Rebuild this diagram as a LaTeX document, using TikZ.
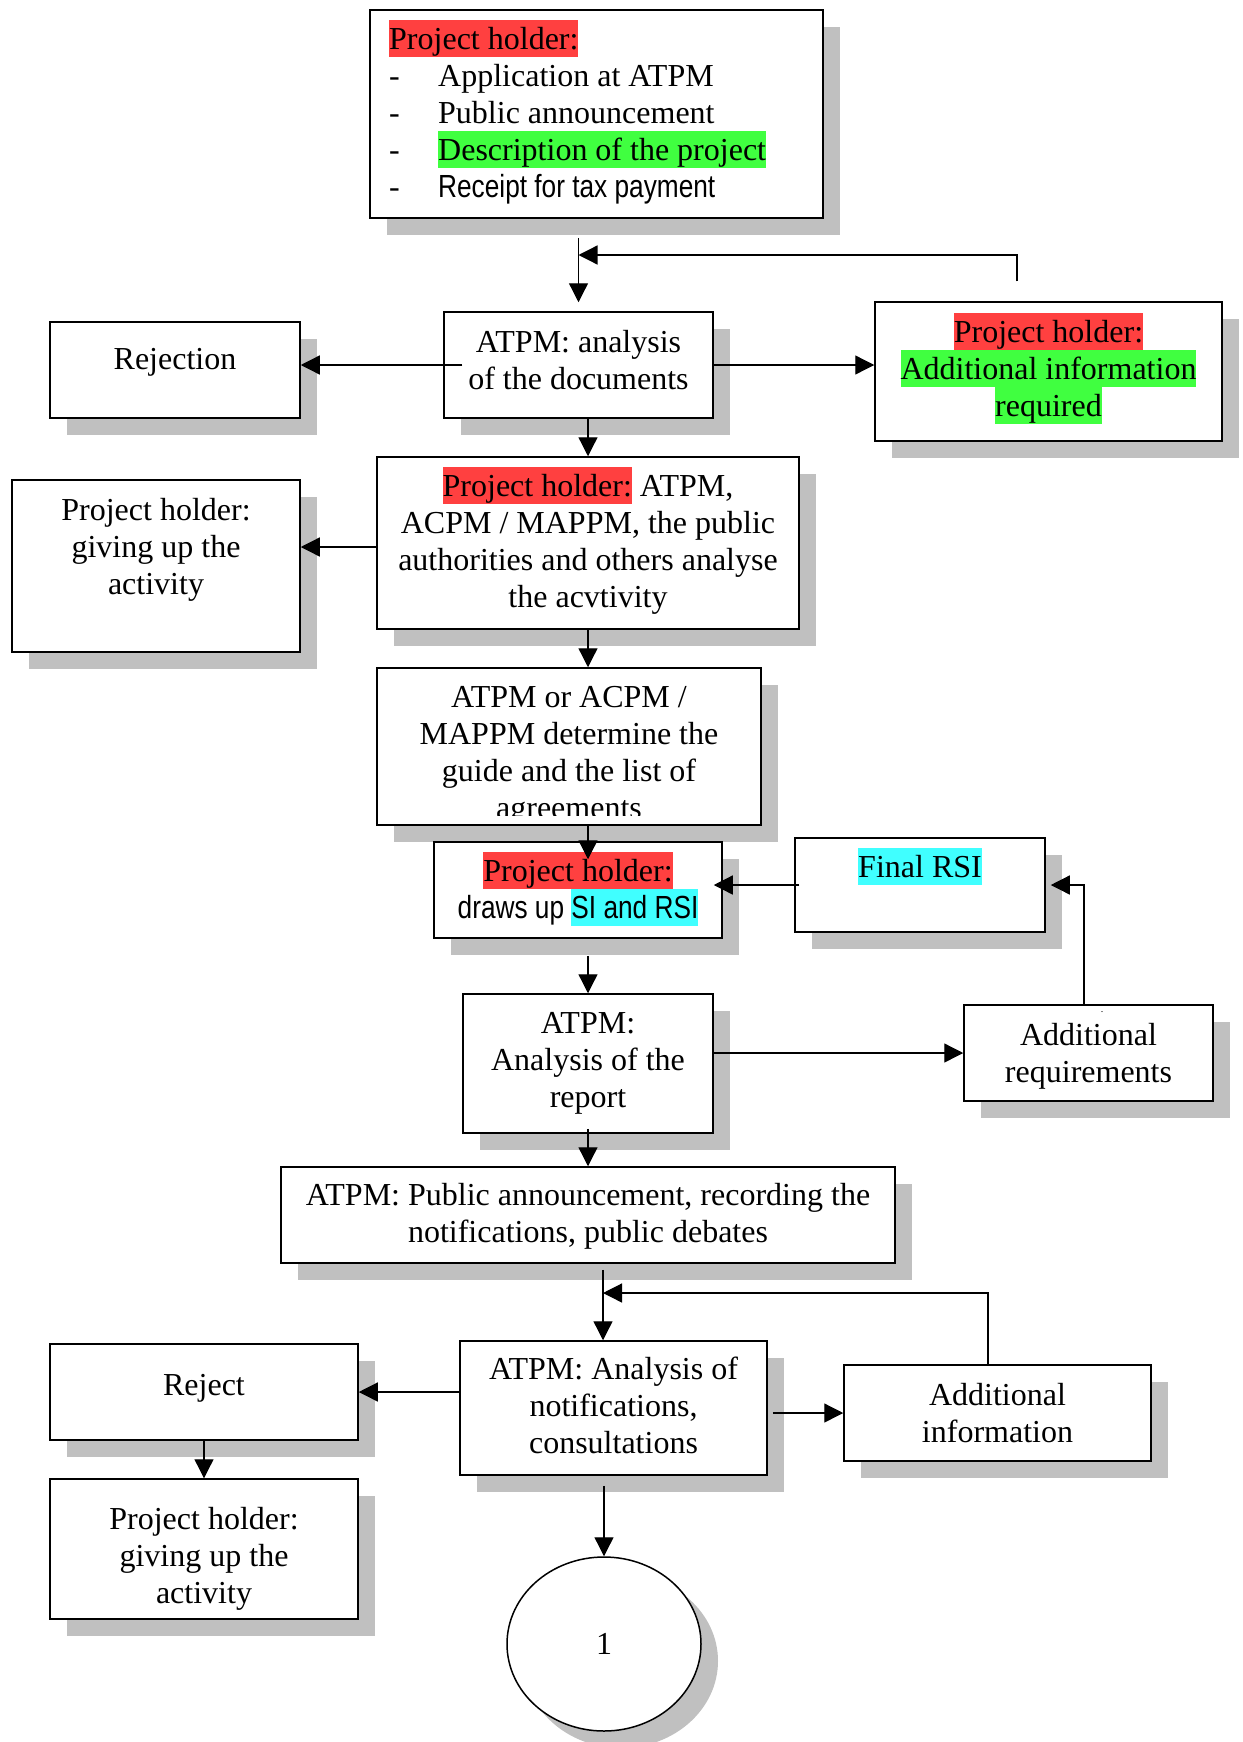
\documentclass[tikz,border=0pt]{standalone}
\usepackage{fontspec}
\setmainfont{Liberation Serif}
\newfontfamily\narrowsans[FakeStretch=0.82]{Liberation Sans}
\usetikzlibrary{arrows.meta,shapes.geometric,shadows}
\definecolor{hlred}{RGB}{255,64,64}
\definecolor{hlgreen}{RGB}{64,255,64}
\definecolor{hlcyan}{RGB}{64,255,255}
\definecolor{shgray}{RGB}{192,192,192}
\newcommand\hlt[2]{{\setlength{\fboxsep}{0pt}\colorbox{#1}{\rule[-0.25em]{0pt}{1.15em}#2}}}
\newcommand\dashln{\makebox[49pt][l]{-}}
\newcommand\bigfont{\fontsize{32}{37}\selectfont}
\begin{document}
\begin{tikzpicture}[x=1pt,y=-1pt,
 flowbox/.style={draw, line width=1.5pt, fill=white, rectangle, inner sep=0pt,
   drop shadow={shadow xshift=17pt, shadow yshift=-17pt, fill=shgray, opacity=1}},
 lbl/.style={inner sep=0pt, align=center, font=\bigfont, anchor=base},
 conn/.style={line width=1.3pt, -{Triangle[length=19pt,width=19pt]}}]

\fill[white] (0,0) rectangle (1242,1742);
\useasboundingbox (0,0) rectangle (1242,1742);

% boxes
\node[flowbox, minimum width=453pt, minimum height=208pt] (top) at (596.5,114) {};
\node[flowbox, minimum width=269pt, minimum height=106pt] (ana) at (578.5,365) {};
\node[flowbox, minimum width=250pt, minimum height=96pt] (rej) at (175,370) {};
\node[flowbox, minimum width=347pt, minimum height=139pt] (req) at (1048.5,371.5) {};
\node[flowbox, minimum width=422pt, minimum height=172pt] (ph) at (588,543) {};
\node[flowbox, minimum width=288pt, minimum height=172pt] (giv1) at (156,566) {};
\node[flowbox, minimum width=384pt, minimum height=157pt] (guide) at (569,746.5) {};
\node[flowbox, minimum width=288pt, minimum height=96pt] (draws) at (578,890) {};
\node[flowbox, minimum width=250pt, minimum height=94pt] (final) at (920,885) {};
\node[flowbox, minimum width=250pt, minimum height=139pt] (rep) at (588,1063.5) {};
\node[flowbox, minimum width=249pt, minimum height=96pt] (addreq) at (1088.5,1053) {};
\node[flowbox, minimum width=614pt, minimum height=96pt] (pub) at (588,1215) {};
\node[flowbox, minimum width=307pt, minimum height=134pt] (notif) at (613.5,1408) {};
\node[flowbox, minimum width=308pt, minimum height=96pt] (reject) at (204,1392) {};
\node[flowbox, minimum width=307pt, minimum height=96pt] (addinfo) at (997.5,1413) {};
\node[flowbox, minimum width=308pt, minimum height=140pt] (giv2) at (204,1549) {};
\node[flowbox, ellipse, minimum width=194pt, minimum height=174pt, font=\bigfont] (one) at (604,1644) {1};

% texts (anchor = baseline of the last line)
\node[lbl, anchor=base west, align=left] (topT) at (389,197)
  {\hlt{hlred}{Project holder:}\\
   \dashln Application at ATPM\\
   \dashln Public announcement\\
   \dashln\hlt{hlgreen}{Description of the project}\\
   \dashln{\narrowsans Receipt for tax payment}};
\node[lbl] (anaT) at (578.5,389) {ATPM: analysis\\of the documents};
\node[lbl] (rejT) at (175,369) {Rejection};
\node[lbl] (reqT) at (1048.5,416) {\hlt{hlred}{Project holder:}\\\hlt{hlgreen}{Additional information}\\\hlt{hlgreen}{required}};
\node[lbl] (phT) at (588,607) {\hlt{hlred}{Project holder:} ATPM,\\ACPM / MAPPM, the public\\authorities and others analyse\\the acvtivity};
\node[lbl] (giv1T) at (156,594) {Project holder:\\giving up the\\activity};
\begin{scope}
\clip (377,668) rectangle (761,815);
\node[lbl] (guideT) at (569,818) {ATPM or ACPM /\\MAPPM determine the\\guide and the list of\\agreements};
\end{scope}
\node[lbl] (drawsT) at (578,918) {\hlt{hlred}{Project holder:}\\{\narrowsans draws up \hlt{hlcyan}{SI and RSI}}};
\node[lbl] (finalT) at (920,877) {\hlt{hlcyan}{Final RSI}};
\node[lbl] (repT) at (588,1107) {ATPM:\\Analysis of the\\report};
\node[lbl] (addreqT) at (1088.5,1082) {Additional\\requirements};
\node[inner sep=0pt, font=\fontsize{10}{12}\selectfont] (dotT) at (1102,1012) {.};
\node[lbl] (pubT) at (588,1242) {ATPM: Public announcement, recording the\\notifications, public debates};
\node[lbl] (notifT) at (613.5,1453) {ATPM: Analysis of\\notifications,\\consultations};
\node[lbl] (rejectT) at (204,1395) {Reject};
\node[lbl] (addinfoT) at (997.5,1442) {Additional\\information};
\node[lbl] (giv2T) at (204,1603) {Project holder:\\giving up the\\activity};

% connectors
\coordinate (fbA) at (1017,255);
\coordinate (fbB) at (1084,885);
\coordinate (fbC) at (988,1293);
\coordinate (colC) at (603,1293);

\draw[conn, shorten <=19pt, shorten >=9pt] (top.south -| ana.north) -- (ana.north);
\draw[conn, shorten <=20pt] (req.north -| fbA) -- (fbA) -- (fbA -| ana.north);
\draw[conn] ([xshift=19pt]ana.west) -- (ana.west -| rej.east);
\draw[conn] (ana.east) -- (ana.east -| req.west);
\draw[conn] (ana.south -| ph.north) -- (ph.north);
\draw[conn] ([yshift=-4pt]ph.west) -- ([yshift=-4pt]ph.west -| giv1.east);
\draw[conn] (ph.south) -- (ph.south |- guide.north);
\draw[conn] (guide.south -| ph.south) -- ([yshift=-18pt]draws.north -| ph.south);
\draw[conn] ([xshift=5pt]final.west) -- ([xshift=-9pt]final.west -| draws.east);
\draw[conn] (addreq.north -| fbB) -- (fbB) -- ([xshift=5pt]final.east);
\draw[conn, shorten <=17pt] (draws.south -| rep.north) -- (rep.north);
\draw[conn] (rep.east |- addreq.west) -- (addreq.west);
\draw[conn] ([yshift=5pt]rep.south) -- (pub.north);
\draw[conn, shorten <=6pt] (pub.south -| colC) -- (notif.north -| colC);
\draw[conn] (addinfo.north -| fbC) -- (fbC) -- (colC);
\draw[conn] (notif.west |- reject.east) -- (reject.east);
\draw[conn] ([xshift=5pt]notif.east |- addinfo.west) -- (addinfo.west);
\draw[conn] (reject.south) -- (giv2.north);
\draw[conn, shorten <=10pt] (notif.south -| one.north) -- (one.north);
\end{tikzpicture}
\end{document}
